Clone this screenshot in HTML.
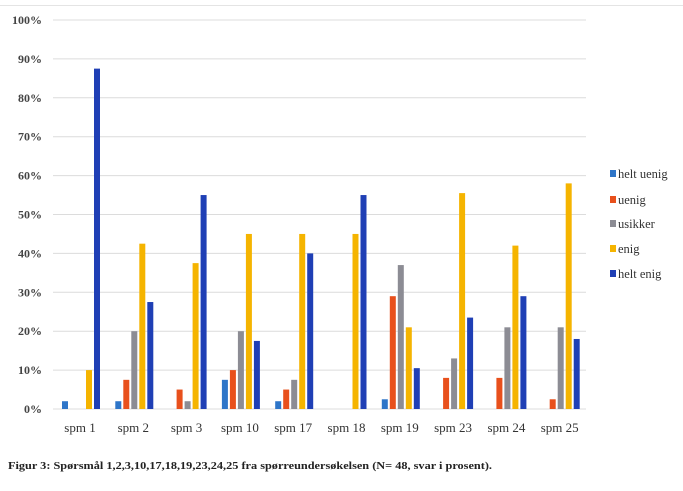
<!DOCTYPE html>
<html><head><meta charset="utf-8"><style>
body{margin:0;background:#fff;}
svg{display:block}
text{font-family:"Liberation Serif",serif;}
</style></head><body>
<svg width="683" height="491" xmlns="http://www.w3.org/2000/svg">
<rect width="683" height="491" fill="#fff"/>
<line x1="0" y1="5.5" x2="683" y2="5.5" stroke="#e4e4e4"/>
<g id="grid" stroke="#dcdcdc" stroke-width="1"></g>
<g id="ylab" font-size="12" font-weight="bold" fill="#444" text-anchor="end"></g>
<g id="bars"></g>
<g id="xlab" font-size="13" fill="#333" text-anchor="middle"></g>
<g font-size="12.5" fill="#333">
<rect x="610" y="170" width="6" height="7" fill="#2e75c8"/><text x="618" y="178">helt uenig</text>
<rect x="610" y="196" width="6" height="7" fill="#e8501c"/><text x="618" y="204">uenig</text>
<rect x="610" y="220" width="6" height="7" fill="#8c8c94"/><text x="618" y="228">usikker</text>
<rect x="610" y="245" width="6" height="7" fill="#f5b400"/><text x="618" y="253">enig</text>
<rect x="610" y="270" width="6" height="7" fill="#1f3fb5"/><text x="618" y="278">helt enig</text>
</g>
<text x="8" y="469" font-size="11" font-weight="bold" fill="#222" textLength="484" lengthAdjust="spacingAndGlyphs">Figur 3: Spørsmål 1,2,3,10,17,18,19,23,24,25 fra spørreundersøkelsen (N= 48, svar i prosent).</text>
</svg>
<script>
const ns="http://www.w3.org/2000/svg";
function el(p,t,a,txt){const e=document.createElementNS(ns,t);for(const k in a)e.setAttribute(k,a[k]);if(txt!==undefined)e.textContent=txt;document.getElementById(p).appendChild(e);}
const y0=409,ppp=3.89;
for(let i=0;i<=10;i++){const y=y0-i*10*ppp;el("grid","line",{x1:53,x2:586,y1:y,y2:y});el("ylab","text",{x:42,y:y+4},(i*10)+"%");}
const cats=["spm 1","spm 2","spm 3","spm 10","spm 17","spm 18","spm 19","spm 23","spm 24","spm 25"];
const data=[[2,0,0,10,87.5],[2,7.5,20,42.5,27.5],[0,5,2,37.5,55],[7.5,10,20,45,17.5],[2,5,7.5,45,40],[0,0,0,45,55],[2.5,29,37,21,10.5],[0,8,13,55.5,23.5],[0,8,21,42,29],[0,2.5,21,58,18]];
const cols=["#2e75c8","#e8501c","#8c8c94","#f5b400","#1f3fb5"];
data.forEach((d,i)=>{const c=80+i*53.3;d.forEach((v,j)=>{if(v>0){const h=v*ppp;el("bars","rect",{x:c-18+j*8,y:y0-h,width:6,height:h,fill:cols[j]});}});el("xlab","text",{x:c,y:432},cats[i]);});
</script>
</body></html>
